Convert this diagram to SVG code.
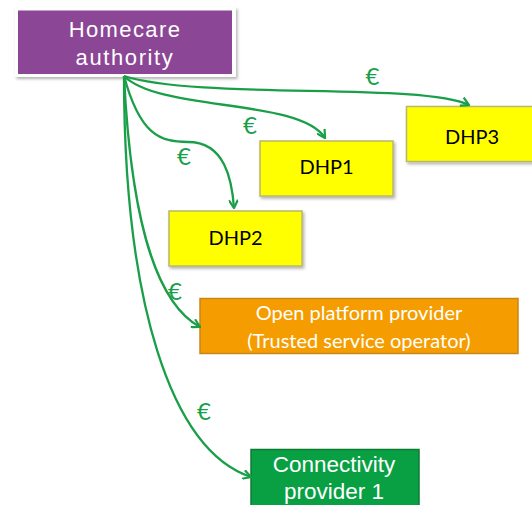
<svg xmlns="http://www.w3.org/2000/svg" width="532" height="505" viewBox="0 0 532 505">
<style>
.lbl{font-family:"Lato","Liberation Sans",sans-serif;text-anchor:middle}
.arial{font-family:"Liberation Sans",Arial,sans-serif;text-anchor:middle;fill:#fff}
.dhp{fill:#ffff00;stroke:#b8b86a;stroke-width:1.5}
.conn{fill:none;stroke:#1a9f48;stroke-width:2.3;marker-end:url(#arr)}
.euro{font-family:"Lato","Liberation Sans",sans-serif;font-size:24px;fill:#1a9f48;text-anchor:middle}
</style>
<defs>
<marker id="arr" viewBox="0 0 10 10" refX="9" refY="5" markerWidth="10" markerHeight="10" markerUnits="userSpaceOnUse" orient="auto">
<polyline points="1,0.5 9,5 1,9.5" fill="none" stroke="#1a9f48" stroke-width="2.2"/>
</marker>
<filter id="sh" x="-10%" y="-10%" width="130%" height="140%">
<feDropShadow dx="1.5" dy="2" stdDeviation="1.5" flood-color="#000" flood-opacity="0.3"/>
</filter>
</defs>
<g id="homecare">
<rect x="15" y="7" width="221" height="70" fill="#ffffff" filter="url(#sh)"/>
<rect x="18" y="10.5" width="214" height="63.5" fill="#8b4796"/>
<text class="arial" x="125" y="37" font-size="22" letter-spacing="1.4">Homecare</text>
<text class="arial" x="125" y="65" font-size="22" letter-spacing="1.6">authority</text>
</g>
<g id="dhp3">
<rect class="dhp" x="406.5" y="106.5" width="132" height="55" filter="url(#sh)"/>
<text class="lbl" x="472" y="143.5" font-size="20">DHP3</text>
</g>
<g id="dhp1">
<rect class="dhp" x="260" y="141" width="133" height="55" filter="url(#sh)"/>
<text class="lbl" x="326.5" y="174" font-size="20">DHP1</text>
</g>
<g id="dhp2">
<rect class="dhp" x="169" y="211" width="133" height="55" filter="url(#sh)"/>
<text class="lbl" x="235.5" y="244.5" font-size="20">DHP2</text>
</g>
<g id="open-platform">
<rect x="200" y="298.5" width="318" height="55" fill="#f59d00" stroke="#c7861a" stroke-width="1.5"/>
<text class="lbl" x="359" y="320" font-size="20" fill="#ffffff">Open platform provider</text>
<text class="lbl" x="359" y="348" font-size="20" fill="#ffffff">(Trusted service operator)</text>
</g>
<g id="connectivity">
<rect x="251" y="449.5" width="168" height="60" fill="#08a043" stroke="#0b7d33" stroke-width="1.5"/>
<text class="arial" x="334" y="472" font-size="22.5">Connectivity</text>
<text class="arial" x="334" y="499" font-size="22.5">provider 1</text>
</g>
<g id="connectors">
<path class="conn" d="M124,76 C200,100 420,82 469,105"/>
<path class="conn" d="M124,76 C160,112 300,98 325,138"/>
<path class="conn" d="M124,76 C140,135 160,142 188,142 C225,142 232,180 234,208"/>
<path class="conn" d="M124,76 C130,200 150,300 200,327"/>
<path class="conn" d="M124,76 C124,300 170,450 251,477"/>
<text class="euro" x="372.5" y="85">€</text>
<text class="euro" x="250" y="134">€</text>
<text class="euro" x="184" y="165">€</text>
<text class="euro" x="175" y="300">€</text>
<text class="euro" x="204" y="420">€</text>
</g>
</svg>
